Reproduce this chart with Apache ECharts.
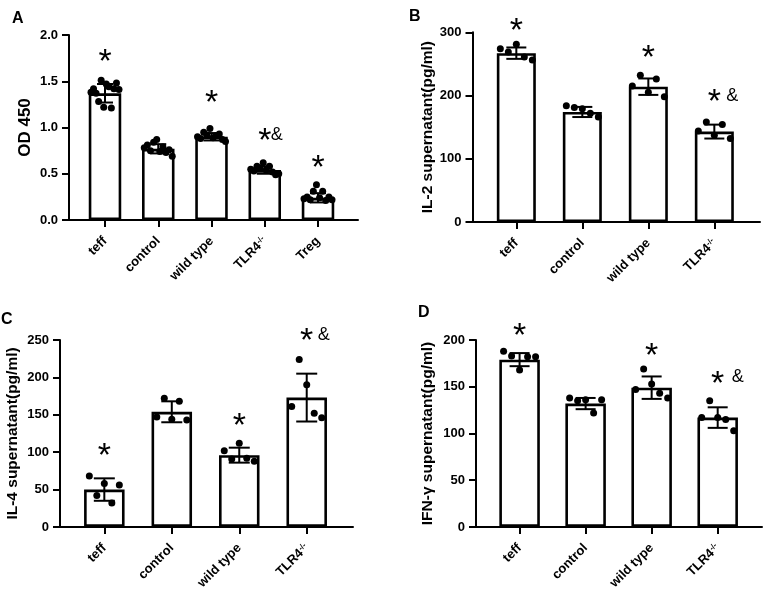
<!DOCTYPE html>
<html><head><meta charset="utf-8">
<script src="https://cdn.jsdelivr.net/npm/echarts@6/dist/echarts.min.js"></script>
<style>html,body{margin:0;padding:0;background:#fff}#c{width:764px;height:592px}</style>
</head><body><div id="c"></div>
<script>
// ---------- Panel A ----------
const catsA = ['teff', 'control', 'wild type', 'TLR4-/-', 'Treg'];
const meanA = [1.37, 0.77, 0.90, 0.54, 0.24];
const sdA = [0.10, 0.05, 0.04, 0.04, 0.05];
const dotsA = [
  [1.38, 1.42, 1.37, 1.28, 1.51, 1.22, 1.47, 1.44, 1.21, 1.42, 1.48, 1.41],
  [0.78, 0.81, 0.75, 0.84, 0.87, 0.74, 0.79, 0.73, 0.76, 0.69],
  [0.90, 0.88, 0.95, 0.92, 0.99, 0.89, 0.91, 0.93, 0.87, 0.85],
  [0.55, 0.53, 0.58, 0.56, 0.62, 0.54, 0.58, 0.52, 0.49, 0.50],
  [0.23, 0.25, 0.22, 0.31, 0.38, 0.24, 0.31, 0.21, 0.25, 0.22]
];
const marksA = ['*', '', '*', '*&', '*'];
const markYA = [1.78, null, 1.33, 0.92, 0.63];
const ticksA = [0, 0.5, 1.0, 1.5, 2.0];

// ---------- Panel B ----------
const catsB = ['teff', 'control', 'wild type', 'TLR4-/-'];
const meanB = [267, 174, 214, 143];
const sdB = [9, 8, 13, 11];
const dotsB = [
  [274, 269, 281, 261, 256],
  [184, 181, 179, 172, 166],
  [215, 232, 205, 226, 198],
  [144, 158, 137, 154, 132]
];
const marksB = ['*', '', '*', '*&'];
const markYB = [312, null, 269, 200];
const ticksB = [0, 100, 200, 300];

// ---------- Panel C ----------
const catsC = ['teff', 'control', 'wild type', 'TLR4-/-'];
const meanC = [50, 154, 96, 173];
const sdC = [15, 14, 10, 32];
const dotsC = [
  [68, 42, 58, 32, 56],
  [147, 172, 144, 168, 143],
  [102, 91, 112, 92, 88],
  [161, 224, 190, 152, 146]
];
const marksC = ['*', '', '*', '*&'];
const markYC = [104, null, 144, 257];
const ticksC = [0, 50, 100, 150, 200, 250];

// ---------- Panel D ----------
const catsD = ['teff', 'control', 'wild type', 'TLR4-/-'];
const meanD = [179, 132, 149, 117];
const sdD = [7, 6, 12, 11];
const dotsD = [
  [188, 183, 168, 182, 182],
  [138, 135, 136, 122, 136],
  [147, 169, 153, 143, 138],
  [117, 135, 117, 115, 103]
];
const marksD = ['*', '', '*', '*&'];
const markYD = [211, null, 190, 160];
const ticksD = [0, 50, 100, 150, 200];

// ---------- layout / style ----------
const FONT = '"Liberation Sans", Arial, Helvetica, sans-serif';
const panels = [
  { letter: 'A', lx: 12, ly: 11, cats: catsA, mean: meanA, sd: sdA, dots: dotsA, marks: marksA, markY: markYA, ticks: ticksA, dec: 1,
    name: 'OD 450', nameSize: 17, nameGap: 35,
    grid: { left: 69, top: 35, width: 289, height: 185 }, xmin: -0.676, xmax: 4.751,
    barW: 32.5, cap: 8, spread: 14, ampDx: 12 },
  { letter: 'B', lx: 409, ly: 9, cats: catsB, mean: meanB, sd: sdB, dots: dotsB, marks: marksB, markY: markYB, ticks: ticksB, dec: 0,
    name: 'IL-2 supernatant(pg/ml)', nameSize: 15.5, nameGap: 35,
    grid: { left: 472.5, top: 32.3, width: 287.5, height: 189.7 }, xmin: -0.664, xmax: 3.692,
    barW: 39, cap: 10, spread: 16, ampDx: 18 },
  { letter: 'C', lx: 1, ly: 312, cats: catsC, mean: meanC, sd: sdC, dots: dotsC, marks: marksC, markY: markYC, ticks: ticksC, dec: 0,
    name: 'IL-4 supernatant(pg/ml)', nameSize: 15.5, nameGap: 39,
    grid: { left: 60, top: 340, width: 293, height: 188.7 }, xmin: -0.657, xmax: 3.686,
    barW: 40.5, cap: 10.5, spread: 15, ampDx: 17 },
  { letter: 'D', lx: 418, ly: 305, cats: catsD, mean: meanD, sd: sdD, dots: dotsD, marks: marksD, markY: markYD, ticks: ticksD, dec: 0,
    name: 'IFN-γ supernatant(pg/ml)', nameSize: 15.5, nameGap: 40,
    grid: { left: 476, top: 340, width: 286, height: 188.7 }, xmin: -0.66, xmax: 3.671,
    barW: 40.5, cap: 10, spread: 16, ampDx: 20 }
];

const grids = [], xAxes = [], yAxes = [], series = [], graphics = [];
panels.forEach((p, k) => {
  grids.push(Object.assign({ containLabel: false }, p.grid));
  const idx = p.cats.map((c, i) => i);
  xAxes.push({
    type: 'value', gridIndex: k, min: p.xmin, max: p.xmax,
    splitLine: { show: false },
    axisLine: { show: true, onZero: false, lineStyle: { color: '#000', width: 2 } },
    axisTick: { show: true, customValues: idx, length: 7, lineStyle: { color: '#000', width: 2 } },
    axisLabel: {
      show: true, customValues: idx, rotate: 45, margin: 19,
      formatter: v => {
        const c = p.cats[Math.round(v)];
        if (c === undefined) return '';
        if (c.indexOf('TLR4') === 0) return '{b|TLR4}{s|-/-}';
        return '{b|' + c + '}';
      },
      rich: {
        b: { fontFamily: FONT, fontWeight: 'bold', fontSize: 13, color: '#000' },
        s: { fontFamily: FONT, fontWeight: 'bold', fontSize: 8, color: '#000', verticalAlign: 'top' }
      }
    }
  });
  const ymax = p.ticks[p.ticks.length - 1];
  yAxes.push({
    type: 'value', gridIndex: k, min: 0, max: ymax, interval: p.ticks[1] - p.ticks[0],
    name: p.name, nameLocation: 'middle', nameGap: p.nameGap,
    nameTextStyle: { fontFamily: FONT, fontWeight: 'bold', fontSize: p.nameSize, color: '#000' },
    splitLine: { show: false },
    axisLine: { show: true, onZero: false, lineStyle: { color: '#000', width: 2 } },
    axisTick: { show: true, length: 7, lineStyle: { color: '#000', width: 2 } },
    axisLabel: { margin: 11, fontFamily: FONT, fontWeight: 'bold', fontSize: 13, color: '#000',
      formatter: v => v.toFixed(p.dec) }
  });
  const pxPerUnit = p.grid.width / (p.xmax - p.xmin);
  series.push({
    type: 'bar', xAxisIndex: k, yAxisIndex: k, barWidth: p.barW, silent: true, z: 2,
    itemStyle: { color: '#fff', borderColor: '#000', borderWidth: 2.6 },
    data: p.mean.map((m, i) => [i, m])
  });
  series.push({
    type: 'custom', xAxisIndex: k, yAxisIndex: k, silent: true, z: 3,
    data: p.mean.map((m, i) => [i, m, p.sd[i]]),
    renderItem: (params, api) => {
      const x = api.value(0), m = api.value(1), s = api.value(2);
      const t = api.coord([x, m + s]), b = api.coord([x, m - s]);
      const st = { stroke: '#000', lineWidth: 2 };
      return { type: 'group', children: [
        { type: 'line', shape: { x1: t[0], y1: t[1], x2: b[0], y2: b[1] }, style: st },
        { type: 'line', shape: { x1: t[0] - p.cap, y1: t[1], x2: t[0] + p.cap, y2: t[1] }, style: st },
        { type: 'line', shape: { x1: b[0] - p.cap, y1: b[1], x2: b[0] + p.cap, y2: b[1] }, style: st }
      ] };
    }
  });
  const pts = [];
  p.dots.forEach((arr, g) => {
    const m = arr.length;
    arr.forEach((v, j) => {
      const f = m > 1 ? j / (m - 1) - 0.5 : 0;
      pts.push([g + f * 2 * p.spread / pxPerUnit, v]);
    });
  });
  series.push({
    type: 'scatter', xAxisIndex: k, yAxisIndex: k, silent: true, z: 4,
    symbol: 'circle', symbolSize: 7, itemStyle: { color: '#000', opacity: 1 }, data: pts
  });
  const md = [];
  p.marks.forEach((mk, i) => { if (mk) md.push([i, p.markY[i], i]); });
  series.push({
    type: 'custom', xAxisIndex: k, yAxisIndex: k, silent: true, z: 5, clip: false,
    data: md,
    renderItem: (params, api) => {
      const i = api.value(2);
      const mk = p.marks[i];
      const c = api.coord([api.value(0), api.value(1)]);
      const ch = [{ type: 'text', style: { text: '*', x: c[0], y: c[1] + 7, align: 'center', verticalAlign: 'middle',
        font: '34px ' + FONT, fill: '#000' } }];
      if (mk.indexOf('&') >= 0) {
        ch.push({ type: 'text', style: { text: '&', x: c[0] + p.ampDx, y: c[1], align: 'center', verticalAlign: 'middle',
          font: '18px ' + FONT, fill: '#000' } });
      }
      return { type: 'group', children: ch };
    }
  });
  graphics.push({ type: 'text', left: p.lx, top: p.ly,
    style: { text: p.letter, font: 'bold 16px ' + FONT, fill: '#000' } });
});

const chart = echarts.init(document.getElementById('c'), null, { renderer: 'canvas' });
chart.setOption({
  animation: false, backgroundColor: '#fff',
  grid: grids, xAxis: xAxes, yAxis: yAxes, series: series, graphic: graphics
});
</script>
</body></html>
